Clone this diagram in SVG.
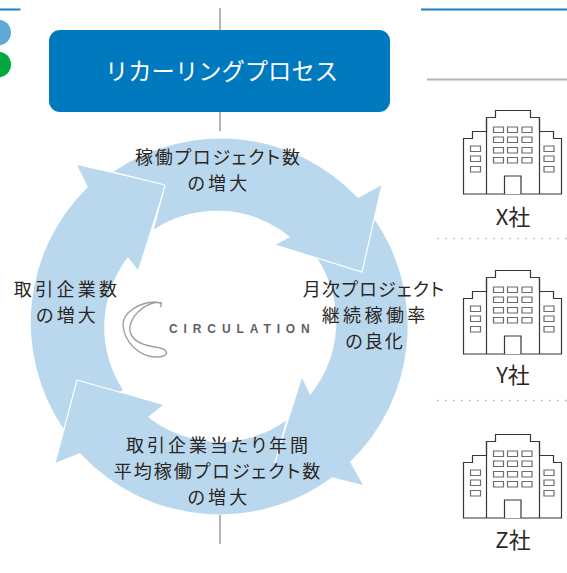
<svg xmlns="http://www.w3.org/2000/svg" width="567" height="573" viewBox="0 0 567 573">
<style>
text{font-family:"Noto Sans CJK JP","Liberation Sans",sans-serif;fill:#2b2623}
.l{font-size:18px;text-anchor:middle;font-feature-settings:"palt"}
.c{font-size:22px;text-anchor:middle}
.a{fill:#b9d8ee}
.e{fill:none;stroke:#fff;stroke-width:1.2}
.b{fill:#fff;stroke:#3a3634;stroke-width:1.2}
.w{fill:#fff;stroke:#6f6b69;stroke-width:1.2}
.g{fill:none;stroke:#b5b5b5;stroke-width:2}
.d{fill:none;stroke:#b5b5b5;stroke-width:1.5;stroke-dasharray:1.5 6.5}
</style>
<defs>
<g id="bld">
<path class="b" d="M463.500 194V138.500H472.500V131.500H486.500V117.500H495.500V110.500H530.500V117.500H539.500V131.500H553.500V138.500H561.500V194Z"/>
<path class="b" d="M486.500 117.500V194M539.500 117.500V194M504.500 194V176H521V194"/>
<path class="w" d="M493.500 127h10v5.500h-10zM507.500 127h10v5.500h-10zM522 127h10v5.500h-10zM493.500 137h10v5.500h-10zM507.500 137h10v5.500h-10zM522 137h10v5.500h-10zM493.500 147.500h10v5.500h-10zM507.500 147.500h10v5.500h-10zM522 147.500h10v5.500h-10zM493.500 157.500h10v5.500h-10zM507.500 157.500h10v5.500h-10zM522 157.500h10v5.500h-10zM470.500 146h10v5.500h-10zM470.500 156h10v5.500h-10zM470.500 166.500h10v5.500h-10zM544 146h10v5.500h-10zM544 156h10v5.500h-10zM544 166.500h10v5.500h-10z"/>
</g>
</defs>
<g id="rules">
<path d="M0 9.500H20.500M421 9.500H567" fill="none" stroke="#1a82c4" stroke-width="1.800"/>
<path class="g" d="M427 79.500H567"/>
<path class="d" d="M437 238.500H567M437 400.500H567"/>
<circle cx="-2" cy="32.500" r="13" fill="#5fa8d8"/>
<circle cx="-2" cy="64.500" r="13" fill="#00a93f"/>
</g>
<g id="connectors">
<path class="g" d="M220 8V31M220 111V131M220 515V544"/>
</g>
<g id="cycle">
<path class="a" d="M63 428A189 189 0 0 1 88 187L77 165L165 185L138 270L128 257A115 115 0 0 0 123 390Z"/>
<path class="a" d="M375 220A189 189 0 0 1 350 462L363 485L275 463L302 378L310 395A115 115 0 0 0 317 258Z"/>
<path class="a" d="M113 172A189 189 0 0 1 358 198L382 185L362 272L275 245L290 237A115 115 0 0 0 153 230L165 185Z"/>
<path class="a" d="M340 471A189 189 0 0 1 80 453L55 463L77 380L163 405L148 417A115 115 0 0 0 287 420L275 463Z"/>
<path class="e" d="M382 185L362 272L275 245M165 185L113 172M165 185L153 230M287 420L275 463M77 380L55 463M77 380L123 393"/>
</g>
<g id="header">
<rect x="49" y="30" width="341" height="82" rx="11" fill="#0079bf"/>
<text x="221.500" y="80" font-size="23.300" text-anchor="middle" style="fill:#fff">リカーリングプロセス</text>
</g>
<g id="step-top"><text class="l" x="218.400" y="164" letter-spacing="1.800">稼働プロジェクト数</text><text class="l" x="219" y="190" letter-spacing="3.200">の増大</text></g>
<g id="step-right"><text class="l" x="374.100" y="296" letter-spacing="1.250">月次プロジェクト</text><text class="l" x="375.200" y="322" letter-spacing="3.400">継続稼働率</text><text class="l" x="375" y="348" letter-spacing="2">の良化</text></g>
<g id="step-bottom"><text class="l" x="218.500" y="452" letter-spacing="3">取引企業当たり年間</text><text class="l" x="218" y="478" letter-spacing="2">平均稼働プロジェクト数</text><text class="l" x="219" y="504" letter-spacing="3.200">の増大</text></g>
<g id="step-left"><text class="l" x="67.100" y="296" letter-spacing="3.300">取引企業数</text><text class="l" x="67.600" y="322" letter-spacing="3.200">の増大</text></g>
<g id="logo">
<path d="M162 303C150 300 133 312 130 326C128 340 142 345 155 347C170 349 170 356 158 357C140 358 124 342 123 325C123 312 140 302 155 302C160 302 163 304 160 307" fill="none" stroke="#a0a0a0" stroke-width="1.400"/>
<text x="169" y="333" font-size="12" font-weight="700" letter-spacing="5.900" style="font-family:'Liberation Sans',sans-serif;fill:#5e6163">CIRCULATION</text>
</g>
<g id="company-x"><use href="#bld"/><text class="c" x="513" y="225">X社</text></g>
<g id="company-y"><use href="#bld" y="160"/><text class="c" x="513" y="383">Y社</text></g>
<g id="company-z"><use href="#bld" y="324"/><text class="c" x="513" y="548">Z社</text></g>
</svg>
